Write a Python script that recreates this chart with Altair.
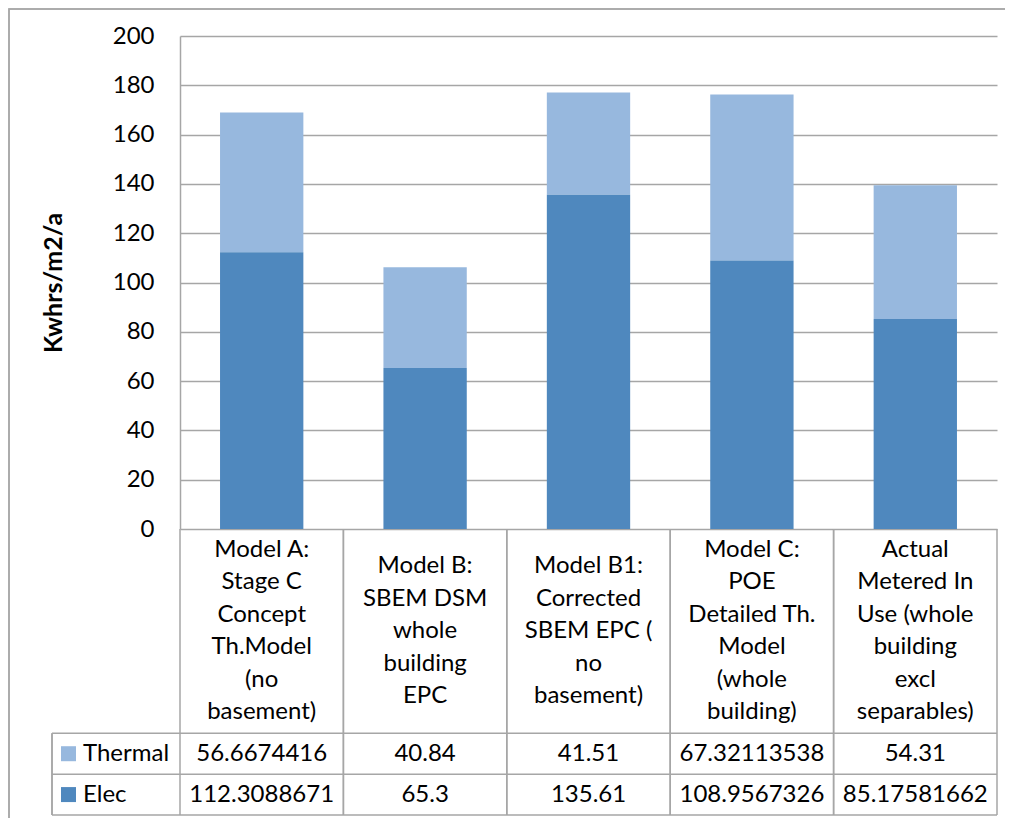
import altair as alt
import pandas as pd

# ---- data ----
categories = [
    "Model A: Stage C Concept Th.Model (no basement)",
    "Model B: SBEM DSM whole building EPC",
    "Model B1: Corrected SBEM EPC ( no basement)",
    "Model C: POE Detailed Th. Model (whole building)",
    "Actual Metered In Use (whole building excl separables)",
]
header_labels = [
    "Model A:\nStage C\nConcept\nTh.Model\n(no\nbasement)",
    "Model B:\nSBEM DSM\nwhole\nbuilding\nEPC",
    "Model B1:\nCorrected\nSBEM EPC (\nno\nbasement)",
    "Model C:\nPOE\nDetailed Th.\nModel\n(whole\nbuilding)",
    "Actual\nMetered In\nUse (whole\nbuilding\nexcl\nseparables)",
]
series = ["Thermal", "Elec"]
thermal = [56.6674416, 40.84, 41.51, 67.32113538, 54.31]
elec = [112.3088671, 65.3, 135.61, 108.9567326, 85.17581662]
colors = ["#97B8DE", "#4F88BE"]
y_ticks = [0, 20, 40, 60, 80, 100, 120, 140, 160, 180, 200]

# ---- layout constants (pixels, plot-area relative) ----
W = 817
BAR_H = 493
TOTAL_H = 779
FONT = "Lato"
FS = 24
LH = 32.5
GRID = "#A6A6A6"

rows = []
for c, t, e in zip(categories, thermal, elec):
    rows.append({"cat": c, "series": "Thermal", "value": t, "label": str(t), "ord": 2, "row": 5.5})
    rows.append({"cat": c, "series": "Elec", "value": e, "label": str(e), "ord": 1, "row": 6.5})
df = pd.DataFrame(rows)
hdr = pd.DataFrame({
    "cat": categories,
    "header": header_labels,
    "nlines": [h.count("\n") + 1 for h in header_labels],
})
leg = pd.DataFrame({"series": series, "row": [5.5, 6.5]})
hlines = pd.DataFrame({"r": [5, 6, 7]})

xscale = alt.Scale(type="band", domain=categories, paddingInner=0, paddingOuter=0)
color_scale = alt.Scale(domain=series, range=colors)


def tscale():
    return alt.Scale(domain=[0, 7], range=[BAR_H, TOTAL_H], nice=False, zero=False)


bars = alt.Chart(df).mark_bar(width=alt.RelativeBandSize(0.51)).encode(
    x=alt.X("cat:N", scale=xscale, axis=None, sort=categories),
    y=alt.Y(
        "value:Q",
        stack="zero",
        scale=alt.Scale(domain=[0, 200], range=[BAR_H, 0], nice=False),
        axis=alt.Axis(
            values=y_ticks,
            grid=True,
            gridColor=GRID,
            gridWidth=1.5,
            domainColor=GRID,
            domainWidth=1.5,
            ticks=False,
            tickSize=0,
            labelPadding=26,
            labelFontSize=FS,
            labelFont=FONT,
            labelColor="#000000",
            title="Kwhrs/m2/a",
            titleFont=FONT,
            titleFontSize=25,
            titleFontWeight="bold",
            titleColor="#000000",
            titlePadding=46,
        ),
    ),
    color=alt.Color("series:N", scale=color_scale, legend=None),
    order=alt.Order("ord:Q"),
)


def header_layer(n):
    return alt.Chart(hdr).transform_filter(alt.datum.nlines == n).mark_text(
        lineBreak="\n", fontSize=FS, lineHeight=LH, baseline="middle", align="center",
        font=FONT, color="#000000", dy=-(n - 1) * LH / 2
    ).encode(
        x=alt.X("cat:N", scale=xscale, axis=None, sort=categories),
        y=alt.Y(datum=2.5, type="quantitative", scale=tscale(), axis=None),
        text="header:N",
    )


value_text = alt.Chart(df).mark_text(
    fontSize=FS, baseline="middle", align="center", font=FONT, color="#000000"
).encode(
    x=alt.X("cat:N", scale=xscale, axis=None, sort=categories),
    y=alt.Y("row:Q", scale=tscale(), axis=None),
    text="label:N",
)

legend_text = alt.Chart(leg).mark_text(
    fontSize=FS, baseline="middle", align="left", font=FONT, color="#000000"
).encode(
    x=alt.value(-97),
    y=alt.Y("row:Q", scale=tscale(), axis=None),
    text="series:N",
)

legend_sq = alt.Chart(leg).mark_square(size=225, opacity=1).encode(
    x=alt.value(-111.5),
    y=alt.Y("row:Q", scale=tscale(), axis=None),
    color=alt.Color("series:N", scale=color_scale, legend=None),
)

h_rules = alt.Chart(hlines).mark_rule(color=GRID, strokeWidth=1.5).encode(
    x=alt.value(-128),
    x2=alt.value(W),
    y=alt.Y("r:Q", scale=tscale(), axis=None),
)

v_rules_left = alt.Chart(hdr).mark_rule(color=GRID, strokeWidth=1.5).encode(
    x=alt.X("cat:N", scale=xscale, axis=None, sort=categories, bandPosition=0),
    y=alt.Y(datum=0, type="quantitative", scale=tscale(), axis=None),
    y2=alt.Y2(datum=7),
)
v_rules_right = alt.Chart(hdr).mark_rule(color=GRID, strokeWidth=1.5).encode(
    x=alt.X("cat:N", scale=xscale, axis=None, sort=categories, bandPosition=1),
    y=alt.Y(datum=0, type="quantitative", scale=tscale(), axis=None),
    y2=alt.Y2(datum=7),
)
legend_left = alt.Chart(leg).mark_rule(color=GRID, strokeWidth=1.5).encode(
    x=alt.value(-128),
    y=alt.Y(datum=5, type="quantitative", scale=tscale(), axis=None),
    y2=alt.Y2(datum=7),
)

outer = alt.Chart(leg).mark_rect(filled=False, stroke="#A6A6A6", strokeWidth=1.5).encode(
    x=alt.value(-171),
    x2=alt.value(W + 100),
    y=alt.value(-27),
    y2=alt.value(TOTAL_H + 100),
)

chart = alt.layer(
    outer, bars, h_rules, v_rules_left, v_rules_right, legend_left,
    header_layer(5), header_layer(6), value_text, legend_text, legend_sq,
).resolve_scale(y="independent").properties(
    width=W,
    height=TOTAL_H,
    autosize=alt.AutoSizeParams(type="none"),
    padding={"left": 172, "top": 28, "right": 8, "bottom": 3},
    background="white",
).configure_view(strokeWidth=0)

chart.save("out.html", embed_options={"renderer": "svg", "actions": False})
